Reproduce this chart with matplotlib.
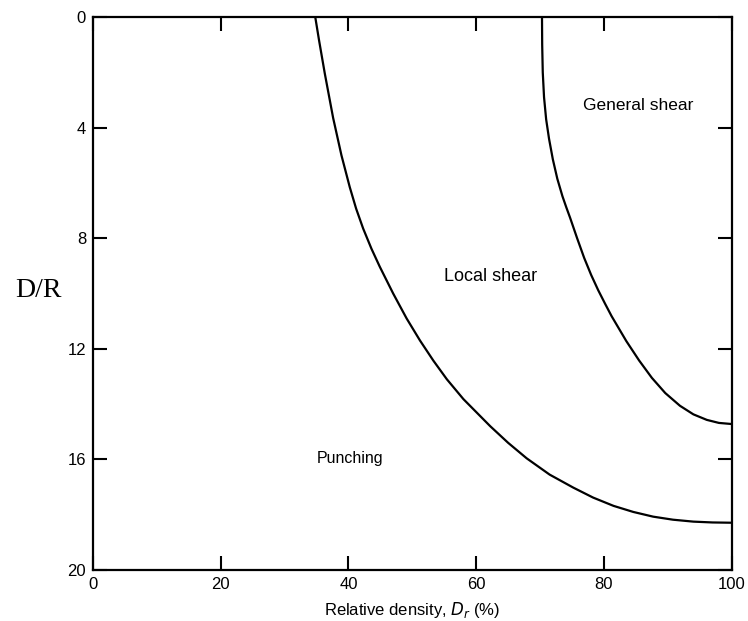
import matplotlib
matplotlib.use("Agg")
import matplotlib.pyplot as plt

# Boundary between punching and local shear
local_x = [34.8, 35.4, 36.3, 37.6, 38.9, 40.2, 41.2, 42.3, 43.6, 44.9, 47.0, 49.1, 51.2, 53.3,
           55.4, 58.0, 62.2, 65.0, 67.9, 71.5, 75.2, 78.3, 81.5, 84.6, 87.7, 90.8,
           94.0, 97.0, 100.0]
local_y = [0.0, 0.85, 2.05, 3.65, 5.0, 6.15, 6.93, 7.65, 8.38, 9.03, 10.0, 10.9, 11.7, 12.43,
           13.1, 13.82, 14.8, 15.4, 15.96, 16.55, 17.02, 17.38, 17.68, 17.9, 18.07, 18.18,
           18.25, 18.28, 18.29]

# Boundary between local shear and general shear
general_x = [70.3, 70.33, 70.42, 70.62, 70.95, 71.4, 72.0, 72.7, 73.5, 74.1, 74.7, 75.8, 76.9,
             78.0, 79.1, 80.2, 81.2, 83.5, 85.5, 87.5, 89.6, 91.9, 94.0, 96.1, 98.0, 100.0]
general_y = [0.0, 1.0, 2.0, 2.9, 3.7, 4.4, 5.15, 5.85, 6.48, 6.88, 7.26, 8.0, 8.71,
             9.33, 9.88, 10.38, 10.82, 11.72, 12.42, 13.05, 13.6, 14.06, 14.37, 14.57, 14.68, 14.72]

x_ticks = [0, 20, 40, 60, 80, 100]
y_ticks = [0, 4, 8, 12, 16, 20]

region_labels = ["General shear", "Local shear", "Punching"]
region_x = [85.3, 62.2, 40.2]
region_y = [3.2, 9.4, 15.95]
region_size = [12.5, 13, 11.5]

sans = ["Liberation Sans", "DejaVu Sans"]

fig = plt.figure(figsize=(7.48, 6.21), dpi=100)
ax = fig.add_axes([0.1243, 0.0821, 0.8539, 0.8905])

ax.plot(local_x, local_y, color="black", lw=1.6, solid_capstyle="butt")
ax.plot(general_x, general_y, color="black", lw=1.6, solid_capstyle="butt")

ax.set_xlim(0, 100)
ax.set_ylim(20, 0)
ax.set_xticks(x_ticks)
ax.set_yticks(y_ticks)
ax.set_xticklabels([str(v) for v in x_ticks], family=sans, fontsize=12)
ax.set_yticklabels([str(v) for v in y_ticks], family=sans, fontsize=12)
ax.tick_params(direction="in", top=True, right=True, length=10, width=1.5, pad=5)
for s in ax.spines.values():
    s.set_linewidth(1.6)

for lab, xx, yy, fs in zip(region_labels, region_x, region_y, region_size):
    ax.text(xx, yy, lab, ha="center", va="center", family=sans, fontsize=fs)

ax.set_xlabel(r"Relative density, $D_r$ (%)", family=sans, fontsize=12, labelpad=6)
fig.text(38 / 748, 1 - 290 / 621, "D/R", family=["Liberation Serif", "DejaVu Serif"],
         fontsize=20, ha="center", va="center")

fig.savefig("out.png", dpi=100)
